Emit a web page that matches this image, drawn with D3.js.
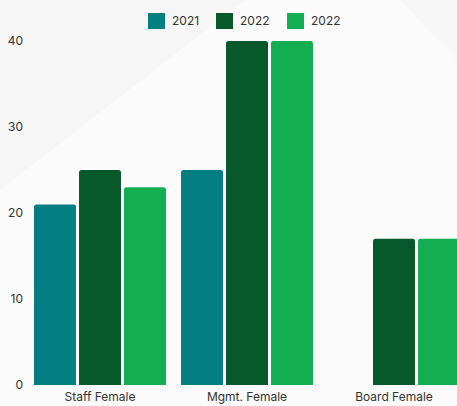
<!DOCTYPE html>
<html>
<head>
<meta charset="utf-8">
<script src="https://cdn.jsdelivr.net/npm/d3@7"></script>
<style>
  html, body { margin: 0; padding: 0; background: #ffffff; }
  svg { display: block; }
  text { font-family: Inter, "Noto Sans", sans-serif; fill: #333; }
</style>
</head>
<body>
<svg id="chart" width="457" height="406"></svg>
<script>
const categories = ["Staff Female", "Mgmt. Female", "Board Female"];
const seriesNames = ["2021", "2022", "2022 "];
const seriesLabels = ["2021", "2022", "2022"];
const values2021 = [21, 25, null];
const values2022a = [25, 40, 17];
const values2022b = [23, 40, 17];
const yTicks = [0, 10, 20, 30, 40];
const colors = ["#037f84", "#07592b", "#13ae52"];

const seriesValues = [values2021, values2022a, values2022b];

const svg = d3.select("#chart");
const W = 457, H = 406;

// soft background panels
svg.append("rect").attr("width", W).attr("height", H).attr("fill", "#fbfbfb");
svg.append("path")
  .attr("d", `M0,0 L245,0 L0,190 Z`)
  .attr("fill", "#f6f6f6");
svg.append("path")
  .attr("d", `M${W},60 L400,0 L${W},0 Z`)
  .attr("fill", "#f7f7f7");

const y = d3.scaleLinear().domain([0, 40]).range([385, 41]);

const x0 = d3.scaleBand()
  .domain(categories)
  .range([34, 460])
  .paddingInner(15 / 147)
  .paddingOuter(0);

const x1 = d3.scaleBand()
  .domain(seriesNames)
  .range([0, x0.bandwidth()])
  .paddingInner(3 / 45)
  .paddingOuter(0);

// y axis labels only
const yAxis = d3.axisLeft(y).tickValues(yTicks).tickSize(0).tickPadding(0);
const yg = svg.append("g").attr("transform", "translate(23,0)").call(yAxis);
yg.select(".domain").remove();
yg.selectAll("text")
  .attr("font-size", 12)
  .attr("font-family", "Inter, 'Noto Sans', sans-serif")
  .attr("fill", "#333");

// x axis labels
const xAxis = d3.axisBottom(x0).tickSize(0).tickPadding(0);
const xg = svg.append("g").attr("transform", "translate(0,392)").call(xAxis);
xg.select(".domain").remove();
xg.selectAll("text")
  .attr("font-size", 12)
  .attr("font-family", "Inter, 'Noto Sans', sans-serif")
  .attr("fill", "#333");

// bars with rounded tops
function barPath(x, w, top, bottom, r) {
  r = Math.min(r, w / 2, (bottom - top));
  return `M${x},${bottom} L${x},${top + r} Q${x},${top} ${x + r},${top} ` +
         `L${x + w - r},${top} Q${x + w},${top} ${x + w},${top + r} L${x + w},${bottom} Z`;
}

const groups = svg.append("g").selectAll("g")
  .data(categories)
  .join("g")
  .attr("transform", d => `translate(${x0(d)},0)`);

groups.selectAll("path")
  .data((d, i) => seriesNames.map((s, j) => ({ s, j, v: seriesValues[j][i] })).filter(e => e.v != null))
  .join("path")
  .attr("d", e => barPath(x1(e.s), x1.bandwidth(), y(e.v), y(0), 2.5))
  .attr("fill", e => colors[e.j]);

// legend
const legendX = [148, 216, 287];
const legend = svg.append("g");
seriesNames.forEach((s, j) => {
  legend.append("rect")
    .attr("x", legendX[j]).attr("y", 13)
    .attr("width", 17).attr("height", 16)
    .attr("fill", colors[j]);
  legend.append("text")
    .attr("x", legendX[j] + 24).attr("y", 21)
    .attr("dy", "0.35em")
    .attr("font-size", 12)
    .text(seriesLabels[j]);
});
</script>
</body>
</html>
